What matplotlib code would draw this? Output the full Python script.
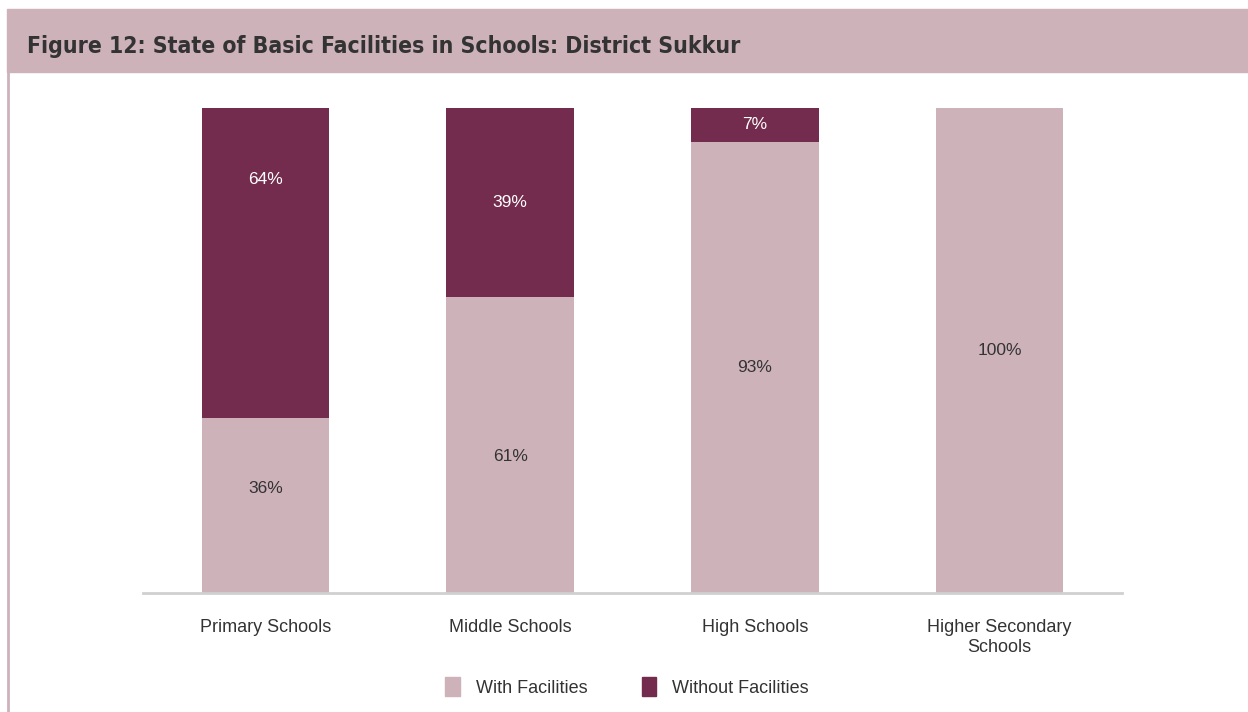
import matplotlib
matplotlib.use("Agg")
import matplotlib.pyplot as plt
from matplotlib.patches import Rectangle, Patch
from matplotlib.lines import Line2D
import numpy as np

# data
categories = ["Primary Schools", "Middle Schools", "High Schools", "Higher Secondary\nSchools"]
with_facilities = [36, 61, 93, 100]
without_facilities = [64, 39, 7, 0]
series_names = ["With Facilities", "Without Facilities"]

# where each value label sits inside its segment (fraction of segment height)
with_label_pos = [0.60, 0.46, 0.5, 0.5]
without_label_pos = [0.77, 0.5, 0.5, 0.5]

light = "#CDB2BA"
dark = "#732C4D"
txt = "#333333"

plt.rcParams['font.family'] = ['Liberation Sans', 'DejaVu Sans']

fig = plt.figure(figsize=(12.48, 7.12), dpi=100)
W, H = 1248.0, 712.0

# header band and left border
fig.patches.append(Rectangle((7 / W, 1 - 72 / H), 1 - 7 / W, 63 / H,
                             transform=fig.transFigure, color=light, zorder=0))
fig.lines.append(Line2D([8 / W, 8 / W], [0, 1 - 72 / H], transform=fig.transFigure,
                        color=light, lw=2))
fig.text(27 / W, 1 - 53 / H, "Figure 12: State of Basic Facilities in Schools: District Sukkur",
         family='DejaVu Sans', stretch='condensed', weight='bold', fontsize=16.5,
         color=txt, va='baseline', ha='left')

ax = fig.add_axes([143 / W, 1 - 593 / H, 979 / W, 485 / H])
x = np.arange(len(categories))
bw = 0.52
ax.bar(x, with_facilities, bw, color=light, label=series_names[0], zorder=2)
ax.bar(x, without_facilities, bw, bottom=with_facilities, color=dark,
       label=series_names[1], zorder=2)

for i in range(len(categories)):
    if with_facilities[i] > 0:
        ax.text(x[i], with_facilities[i] * with_label_pos[i], f"{with_facilities[i]}%",
                ha='center', va='center', fontsize=12.5, color=txt)
    if without_facilities[i] > 0:
        ax.text(x[i], with_facilities[i] + without_facilities[i] * without_label_pos[i],
                f"{without_facilities[i]}%", ha='center', va='center', fontsize=12.5,
                color='white')

ax.set_xlim(-0.5, len(categories) - 0.5)
ax.set_ylim(0, 100)
ax.set_yticks([])
ax.set_xticks(x)
ax.set_xticklabels(categories, fontsize=13, color=txt, linespacing=1.2)
ax.tick_params(axis='x', length=0, pad=19)
for s in ['top', 'right', 'left']:
    ax.spines[s].set_visible(False)
ax.spines['bottom'].set_color('#D0D0D0')
ax.spines['bottom'].set_linewidth(2)
ax.spines['bottom'].set_zorder(3)

handles = [Patch(color=light), Patch(color=dark)]
fig.legend(handles, series_names, loc='center', bbox_to_anchor=(627 / W, 1 - 687 / H),
           ncol=2, frameon=False, fontsize=13, handlelength=0.8, handleheight=1.2,
           handletextpad=0.9, columnspacing=3.0, labelcolor=txt)

fig.savefig("out.png", dpi=100)
